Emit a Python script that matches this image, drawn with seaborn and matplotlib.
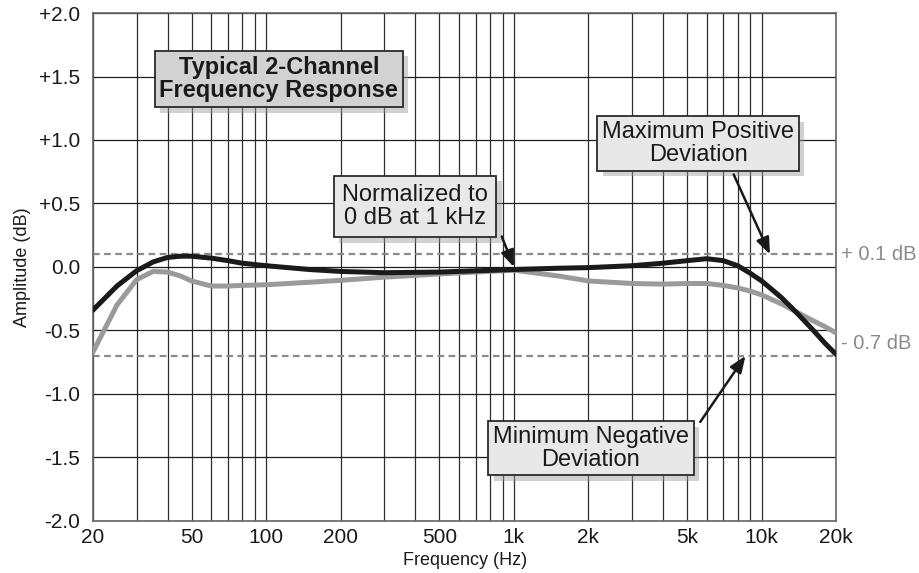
import numpy as np
import pandas as pd
import matplotlib
matplotlib.use("Agg")
import matplotlib.pyplot as plt
import matplotlib.patheffects as pe
from matplotlib.ticker import FixedLocator, NullFormatter, MultipleLocator
import seaborn as sns

freq = [20, 25, 30, 35, 40, 45, 50, 60, 70, 80, 100, 150, 200, 300, 500, 700,
        1000, 1500, 2000, 3000, 4000, 5000, 6000, 7000, 8000, 9000, 10000,
        12000, 14000, 16000, 18000, 20000]
ch_black = [-0.34, -0.15, -0.03, 0.04, 0.075, 0.085, 0.085, 0.07, 0.05, 0.03,
            0.01, -0.02, -0.035, -0.045, -0.04, -0.03, -0.02, -0.01, -0.005,
            0.01, 0.03, 0.05, 0.065, 0.05, 0.01, -0.05, -0.11, -0.24, -0.37,
            -0.49, -0.60, -0.69]
ch_gray = [-0.67, -0.30, -0.10, -0.035, -0.04, -0.07, -0.11, -0.15, -0.15,
           -0.145, -0.14, -0.12, -0.105, -0.08, -0.055, -0.04, -0.025, -0.07,
           -0.11, -0.13, -0.135, -0.13, -0.13, -0.145, -0.165, -0.19, -0.22,
           -0.29, -0.36, -0.42, -0.47, -0.52]

xticks = [20, 50, 100, 200, 500, 1000, 2000, 5000, 10000, 20000]
xticklabels = ["20", "50", "100", "200", "500", "1k", "2k", "5k", "10k", "20k"]
yticks = [-2.0, -1.5, -1.0, -0.5, 0.0, 0.5, 1.0, 1.5, 2.0]
yticklabels = ["-2.0", "-1.5", "-1.0", "-0.5", "0.0", "+0.5", "+1.0", "+1.5", "+2.0"]
limit_hi = 0.1
limit_lo = -0.7

sns.set_style("white")
plt.rcParams["font.family"] = ["Liberation Sans", "DejaVu Sans"]

df = pd.DataFrame({
    "freq": freq * 2,
    "amp": ch_black + ch_gray,
    "ch": ["A"] * len(freq) + ["B"] * len(freq),
})

fig = plt.figure(figsize=(9.2, 5.73), dpi=100)
ax = fig.add_axes([0.101, 0.0908, 0.808, 0.8865])

ax.set_xscale("log")
ax.set_xlim(20, 20000)
ax.set_ylim(-2.0, 2.0)

# grid lines
grid_f = []
for dec in [10, 100, 1000, 10000]:
    for m in range(1, 10):
        f = dec * m
        if 20 <= f <= 20000:
            grid_f.append(f)
ax.xaxis.set_minor_locator(FixedLocator(grid_f))
ax.xaxis.set_minor_formatter(NullFormatter())
ax.set_xticks(xticks)
ax.set_xticklabels(xticklabels)
ax.grid(True, which="both", axis="x", color="#2e2e2e", lw=0.9)
ax.set_yticks(yticks)
ax.set_yticklabels(yticklabels)
ax.grid(True, which="major", axis="y", color="#1e1e1e", lw=0.9)
ax.yaxis.set_minor_locator(MultipleLocator(0.1))
ax.tick_params(axis="y", which="minor", direction="in", length=8, width=1.0,
               color="#222222", pad=0)
ax.tick_params(axis="both", which="major", length=0, labelsize=15,
               labelcolor="#1a1a1a")
ax.tick_params(axis="x", which="minor", length=0)
ax.tick_params(axis="x", which="major", pad=5)
ax.tick_params(axis="y", which="major", pad=9)
for s in ax.spines.values():
    s.set_color("#666666")
    s.set_linewidth(1.2)
ax.set_axisbelow(True)

# limit lines
ax.axhline(limit_hi, color="#8a8a8a", lw=1.6, ls=(0, (3, 2)), zorder=2)
ax.axhline(limit_lo, color="#8a8a8a", lw=1.6, ls=(0, (3, 2)), zorder=2)

sns.lineplot(data=df, x="freq", y="amp", hue="ch",
             palette={"A": "#1a1a1a", "B": "#9a9a9a"},
             hue_order=["B", "A"], lw=3.6, legend=False, ax=ax, zorder=3)

ax.set_xlabel("Frequency (Hz)", fontsize=13, color="#1a1a1a", labelpad=4)
ax.set_ylabel("Amplitude (dB)", fontsize=13, color="#1a1a1a", labelpad=6)

ax.text(1.007, limit_hi, "+ 0.1 dB", transform=ax.get_yaxis_transform(),
        color="#8a8a8a", fontsize=14.5, va="center", ha="left")
ax.text(1.007, limit_lo + 0.1, "- 0.7 dB", transform=ax.get_yaxis_transform(),
        color="#8a8a8a", fontsize=14.5, va="center", ha="left")

shadow = [pe.SimplePatchShadow(offset=(4, -4), shadow_rgbFace="#9a9a9a",
                               alpha=0.45), pe.Normal()]

def box_text(x, y, s, fc, bold=False, size=17, pad="0.2"):
    t = ax.text(x, y, s, transform=ax.transAxes, ha="center", va="center",
                fontsize=size, fontweight="bold" if bold else "normal",
                color="#1a1a1a", linespacing=1.05, zorder=6,
                bbox=dict(boxstyle="square,pad=" + pad, fc=fc, ec="#2a2a2a",
                          lw=1.3))
    t.get_bbox_patch().set_path_effects(shadow)
    return t

box_text(0.250, 0.870, "Typical 2-Channel\nFrequency Response", "#d2d2d2",
         bold=True, size=17)
box_text(0.433, 0.619, "Normalized to\n0 dB at 1 kHz", "#e8e8e8", pad="0.35")
box_text(0.814, 0.743, "Maximum Positive\nDeviation", "#e8e8e8")
box_text(0.670, 0.143, "Minimum Negative\nDeviation", "#e8e8e8")

arrow = dict(arrowstyle="-|>,head_length=1.0,head_width=0.4",
             color="#1a1a1a", lw=1.8, shrinkA=0, shrinkB=0)
ax.annotate("", xy=(1000, 0.0), xytext=(0.550, 0.560),
            xycoords="data", textcoords="axes fraction", arrowprops=arrow,
            zorder=7)
ax.annotate("", xy=(10800, limit_hi), xytext=(0.862, 0.682),
            xycoords="data", textcoords="axes fraction", arrowprops=arrow,
            zorder=7)
ax.annotate("", xy=(8600, limit_lo), xytext=(0.817, 0.195),
            xycoords="data", textcoords="axes fraction", arrowprops=arrow,
            zorder=7)

fig.savefig("out.png", dpi=100)
